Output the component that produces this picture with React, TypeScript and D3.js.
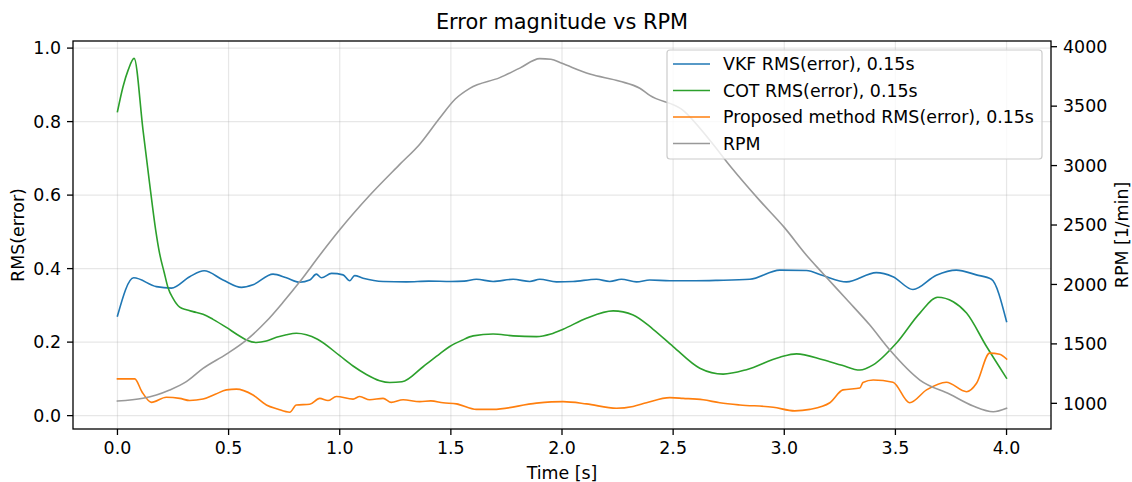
import React from "react";
import * as d3 from "d3";

const vkfT = [0, 0.073, 0.175, 0.243, 0.325, 0.39, 0.475, 0.558, 0.61, 0.70, 0.76, 0.82, 0.865, 0.895, 0.918, 0.963, 1.015, 1.045, 1.067, 1.105, 1.195, 1.3, 1.4, 1.5, 1.56, 1.615, 1.69, 1.78, 1.855, 1.9, 1.975, 2.05, 2.155, 2.215, 2.267, 2.335, 2.395, 2.485, 2.6, 2.7, 2.845, 2.98, 3.10, 3.174, 3.28, 3.414, 3.489, 3.579, 3.684, 3.774, 3.864, 3.932, 4.0];
const vkfV = [0.271, 0.375, 0.351, 0.347, 0.378, 0.394, 0.369, 0.349, 0.356, 0.385, 0.375, 0.363, 0.369, 0.385, 0.375, 0.387, 0.383, 0.367, 0.381, 0.374, 0.365, 0.364, 0.366, 0.365, 0.366, 0.371, 0.365, 0.371, 0.365, 0.371, 0.364, 0.365, 0.371, 0.365, 0.371, 0.364, 0.369, 0.367, 0.367, 0.368, 0.371, 0.396, 0.395, 0.381, 0.364, 0.389, 0.378, 0.343, 0.382, 0.396, 0.383, 0.371, 0.256];

const cotT = [0, 0.025, 0.048, 0.075, 0.115, 0.145, 0.172, 0.19, 0.21, 0.228, 0.25, 0.28, 0.31, 0.34, 0.385, 0.43, 0.49, 0.54, 0.58, 0.625, 0.67, 0.715, 0.76, 0.805, 0.85, 0.9, 1.0, 1.06, 1.12, 1.18, 1.225, 1.28, 1.375, 1.45, 1.495, 1.55, 1.60, 1.69, 1.78, 1.885, 1.95, 2.005, 2.11, 2.23, 2.32, 2.41, 2.50, 2.62, 2.725, 2.83, 2.98, 3.055, 3.174, 3.26, 3.34, 3.40, 3.504, 3.61, 3.69, 3.76, 3.82, 3.91, 4.0];
const cotV = [0.827, 0.895, 0.940, 0.972, 0.777, 0.63, 0.505, 0.44, 0.39, 0.347, 0.319, 0.295, 0.288, 0.283, 0.276, 0.262, 0.240, 0.220, 0.206, 0.199, 0.203, 0.213, 0.220, 0.224, 0.220, 0.208, 0.163, 0.135, 0.112, 0.095, 0.090, 0.092, 0.133, 0.168, 0.188, 0.205, 0.217, 0.222, 0.217, 0.215, 0.222, 0.235, 0.265, 0.285, 0.274, 0.235, 0.188, 0.129, 0.113, 0.125, 0.159, 0.168, 0.152, 0.137, 0.124, 0.138, 0.197, 0.279, 0.322, 0.310, 0.279, 0.188, 0.102];

const propT = [0, 0.078, 0.11, 0.153, 0.22, 0.28, 0.325, 0.385, 0.44, 0.49, 0.535, 0.61, 0.67, 0.72, 0.775, 0.805, 0.865, 0.91, 0.947, 0.985, 1.06, 1.09, 1.135, 1.195, 1.232, 1.285, 1.36, 1.41, 1.465, 1.525, 1.615, 1.69, 1.885, 2.005, 2.11, 2.245, 2.32, 2.38, 2.485, 2.545, 2.635, 2.71, 2.80, 2.95, 3.047, 3.115, 3.205, 3.264, 3.34, 3.354, 3.40, 3.489, 3.564, 3.64, 3.729, 3.82, 3.865, 3.924, 3.969, 4.0];
const propV = [0.100, 0.100, 0.065, 0.036, 0.050, 0.047, 0.041, 0.045, 0.058, 0.070, 0.072, 0.056, 0.029, 0.018, 0.009, 0.029, 0.031, 0.047, 0.041, 0.052, 0.045, 0.052, 0.043, 0.047, 0.036, 0.043, 0.038, 0.040, 0.035, 0.032, 0.017, 0.017, 0.034, 0.038, 0.032, 0.020, 0.025, 0.035, 0.049, 0.047, 0.043, 0.035, 0.029, 0.023, 0.013, 0.017, 0.035, 0.070, 0.075, 0.090, 0.097, 0.091, 0.035, 0.070, 0.091, 0.065, 0.088, 0.170, 0.167, 0.154];

const rpmT = [0, 0.115, 0.175, 0.235, 0.31, 0.385, 0.49, 0.58, 0.67, 0.745, 0.82, 0.91, 1.0, 1.135, 1.27, 1.36, 1.45, 1.52, 1.585, 1.72, 1.81, 1.9, 1.95, 2.0, 2.125, 2.26, 2.35, 2.395, 2.545, 2.665, 2.76, 2.89, 3.0, 3.10, 3.174, 3.28, 3.385, 3.475, 3.61, 3.745, 3.85, 3.94, 4.0];
const rpmV = [1019, 1042, 1070, 1112, 1182, 1294, 1414, 1532, 1690, 1850, 2022, 2246, 2460, 2750, 3010, 3180, 3400, 3560, 3650, 3740, 3820, 3900, 3895, 3860, 3770, 3710, 3650, 3590, 3465, 3213, 2988, 2705, 2480, 2246, 2092, 1875, 1658, 1448, 1196, 1076, 977, 929, 958];

const xTicks = [0, 0.5, 1.0, 1.5, 2.0, 2.5, 3.0, 3.5, 4.0];
const yTicks = [0, 0.2, 0.4, 0.6, 0.8, 1.0];
const rpmTicks = [1000, 1500, 2000, 2500, 3000, 3500, 4000];

const legendLabels = ["VKF RMS(error), 0.15s", "COT RMS(error), 0.15s", "Proposed method RMS(error), 0.15s", "RPM"];
const colors = ["#1f77b4", "#2ca02c", "#ff7f0e", "#999999"];

const W = 1132, H = 482;
const L = 73, R = 1051, T = 41, B = 429;
const FONT = "DejaVu Sans, sans-serif";

export default function App() {
  const x = d3.scaleLinear().domain([-0.2, 4.2]).range([L, R]);
  const y = d3.scaleLinear().domain([-0.0364, 1.0193]).range([B, T]);
  const y2 = d3.scaleLinear().domain([784, 4048]).range([B, T]);

  const mk = (ts: number[], vs: number[], sc: d3.ScaleLinear<number, number>) =>
    d3.line<number>().x((_, i) => x(ts[i])).y((v) => sc(v)).curve(d3.curveMonotoneX)(vs) || "";

  const paths = [
    mk(vkfT, vkfV, y),
    mk(cotT, cotV, y),
    mk(propT, propV, y),
  ];
  const rpmPath = mk(rpmT, rpmV, y2);

  const fs = 17.4;
  const tl = 6;
  return (
    <svg width={W} height={H} style={{ position: "fixed", left: 0, top: 0, background: "#fff" }} fontFamily={FONT}>
      <rect x={0} y={0} width={W} height={H} fill="#fff" />
      {xTicks.map((t) => (
        <line key={"gx" + t} x1={x(t)} x2={x(t)} y1={T} y2={B} stroke="#b0b0b0" strokeOpacity={0.3} strokeWidth={1.2} />
      ))}
      {yTicks.map((t) => (
        <line key={"gy" + t} x1={L} x2={R} y1={y(t)} y2={y(t)} stroke="#b0b0b0" strokeOpacity={0.3} strokeWidth={1.2} />
      ))}
      <defs>
        <clipPath id="clip"><rect x={L} y={T} width={R - L} height={B - T} /></clipPath>
      </defs>
      <g clipPath="url(#clip)" fill="none" strokeLinejoin="round" strokeLinecap="square">
        {paths.map((p, i) => (
          <path key={i} d={p} stroke={colors[i]} strokeWidth={1.6} />
        ))}
        <path d={rpmPath} stroke={colors[3]} strokeWidth={1.6} />
      </g>
      <rect x={L} y={T} width={R - L} height={B - T} fill="none" stroke="#000" strokeWidth={1.3} />
      {xTicks.map((t) => (
        <g key={"xt" + t}>
          <line x1={x(t)} x2={x(t)} y1={B} y2={B + tl} stroke="#000" strokeWidth={1.3} />
          <text x={x(t)} y={B + tl + 6 + 13} fontSize={fs} textAnchor="middle">{t.toFixed(1)}</text>
        </g>
      ))}
      {yTicks.map((t) => (
        <g key={"yt" + t}>
          <line x1={L - tl} x2={L} y1={y(t)} y2={y(t)} stroke="#000" strokeWidth={1.3} />
          <text x={L - tl - 6} y={y(t) + 6.3} fontSize={fs} textAnchor="end">{t.toFixed(1)}</text>
        </g>
      ))}
      {rpmTicks.map((t) => (
        <g key={"rt" + t}>
          <line x1={R} x2={R + tl} y1={y2(t)} y2={y2(t)} stroke="#000" strokeWidth={1.3} />
          <text x={R + tl + 6} y={y2(t) + 6.3} fontSize={fs} textAnchor="start">{t}</text>
        </g>
      ))}
      <text x={(L + R) / 2} y={479} fontSize={fs} textAnchor="middle">Time [s]</text>
      <text transform={`translate(24, ${(T + B) / 2}) rotate(-90)`} fontSize={fs} textAnchor="middle">RMS(error)</text>
      <text transform={`translate(1128, ${(T + B) / 2}) rotate(-90)`} fontSize={fs} textAnchor="middle">RPM [1/min]</text>
      <text x={(L + R) / 2} y={29} fontSize={20.9} textAnchor="middle">Error magnitude vs RPM</text>
      <rect x={667} y={50} width={375} height={109} rx={3} fill="#fff" fillOpacity={0.8} stroke="#cccccc" strokeWidth={1.2} />
      {legendLabels.map((lab, i) => (
        <g key={lab}>
          <line x1={673} x2={710} y1={64 + i * 26.5} y2={64 + i * 26.5} stroke={colors[i]} strokeWidth={1.6} />
          <text x={723} y={64 + i * 26.5 + 6.3} fontSize={fs}>{lab}</text>
        </g>
      ))}
    </svg>
  );
}
